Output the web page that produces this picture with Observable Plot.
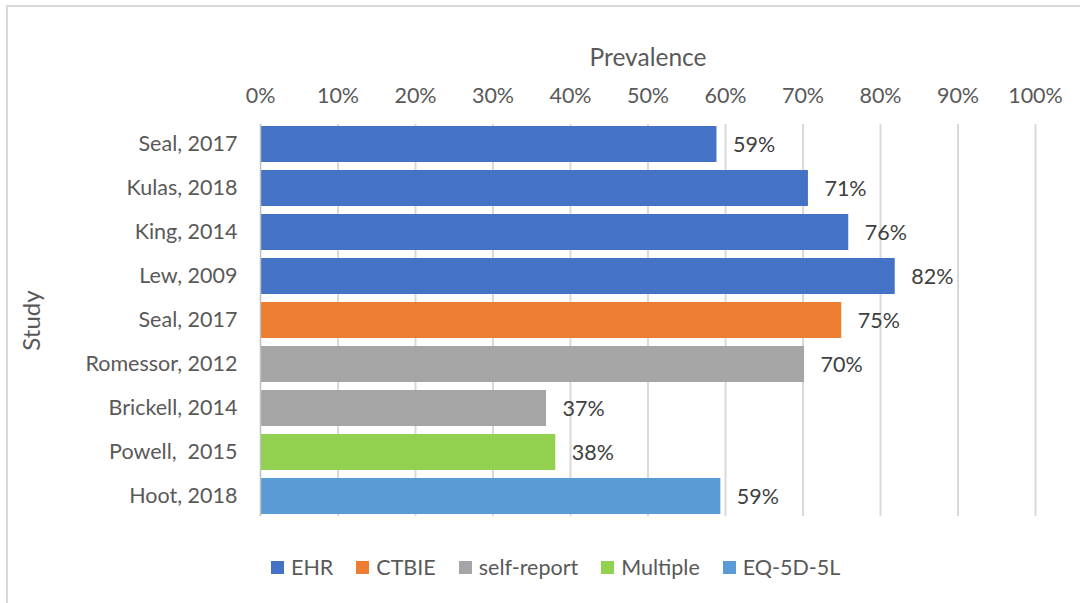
<!DOCTYPE html>
<html>
<head>
<meta charset="utf-8">
<script src="https://cdn.jsdelivr.net/npm/d3@7"></script>
<script src="https://cdn.jsdelivr.net/npm/@observablehq/plot@0.6"></script>
<style>
  html, body { margin: 0; padding: 0; background: #fff; }
  #wrap { position: relative; width: 1080px; height: 603px; overflow: hidden; font-family: Lato, "Open Sans", sans-serif; }
  #frame { position: absolute; left: 6px; top: 5px; width: 1100px; height: 620px; border: 2px solid #d9d9d9; box-sizing: border-box; }
  #chart { position: absolute; left: 0; top: 0; }
  #legend { position: absolute; top: 553px; left: 271px; height: 28px; display: flex; align-items: center; font-size: 21.5px; color: #595959; }
  .item { display: flex; align-items: center; margin-right: 23px; }
  .sw { width: 13px; height: 13px; margin-right: 7px; }
</style>
</head>
<body>
<div id="wrap">
  <div id="frame"></div>
  <div id="chart"></div>
  <div id="legend"></div>
</div>
<script>
const studies = ["Seal, 2017", "Kulas, 2018", "King, 2014", "Lew, 2009", "Seal, 2017", "Romessor, 2012", "Brickell, 2014", "Powell,  2015", "Hoot, 2018"];
const prevalence = [58.9, 70.7, 75.9, 81.9, 75.0, 70.2, 36.9, 38.1, 59.4];
const methods = ["EHR", "EHR", "EHR", "EHR", "CTBIE", "self-report", "self-report", "Multiple", "EQ-5D-5L"];
const methodNames = ["EHR", "CTBIE", "self-report", "Multiple", "EQ-5D-5L"];
const methodColors = ["#4472C4", "#ED7D31", "#A5A5A5", "#92D050", "#5B9BD5"];
const xTicks = [0, 10, 20, 30, 40, 50, 60, 70, 80, 90, 100];

const data = studies.map((s, i) => ({ idx: i, study: s, value: prevalence[i] / 100, method: methods[i] }));

const plot = Plot.plot({
  width: 1080,
  height: 540,
  marginTop: 120,
  marginBottom: 20,
  marginLeft: 260,
  marginRight: 45,
  style: { fontFamily: "Lato, 'Open Sans', sans-serif", fontSize: "21.5px", color: "#595959", background: "transparent", overflow: "visible" },
  x: { domain: [0, 1], axis: "top", ticks: xTicks.map(t => t / 100), tickFormat: d => Math.round(d * 100) + "%", tickSize: 0, tickPadding: 18, label: null },
  y: { domain: data.map(d => d.idx), paddingInner: 0.18, paddingOuter: 0.09, tickSize: 0, tickPadding: 23, tickFormat: i => studies[i], label: null },
  color: { domain: methodNames, range: methodColors },
  marks: [
    Plot.ruleX(xTicks.slice(1).map(t => t / 100), { stroke: "#d9d9d9", strokeWidth: 2, insetTop: 4, insetBottom: 4 }),
    Plot.barX(data, { x: "value", y: "idx", fill: "method" }),
    Plot.ruleX([0], { stroke: "#bfbfbf", strokeWidth: 1.5, insetTop: 4, insetBottom: 4 }),
    Plot.text(data, { x: "value", y: "idx", text: d => Math.round(d.value * 100) + "%", dx: 16, dy: 1, textAnchor: "start", fontSize: 21.5, fill: "#404040" }),
    Plot.text(["Prevalence"], { frameAnchor: "top", dy: -72, fontSize: 24.5, fill: "#595959" }),
    Plot.text(["Study"], { frameAnchor: "left", textAnchor: "middle", dx: -228, rotate: -90, fontSize: 24, fill: "#595959" })
  ]
});
document.getElementById("chart").appendChild(plot);

const legend = document.getElementById("legend");
methodNames.forEach((m, i) => {
  const it = document.createElement("div");
  it.className = "item";
  const sw = document.createElement("div");
  sw.className = "sw";
  sw.style.background = methodColors[i];
  const tx = document.createElement("span");
  tx.textContent = m;
  it.appendChild(sw); it.appendChild(tx);
  legend.appendChild(it);
});
</script>
</body>
</html>
